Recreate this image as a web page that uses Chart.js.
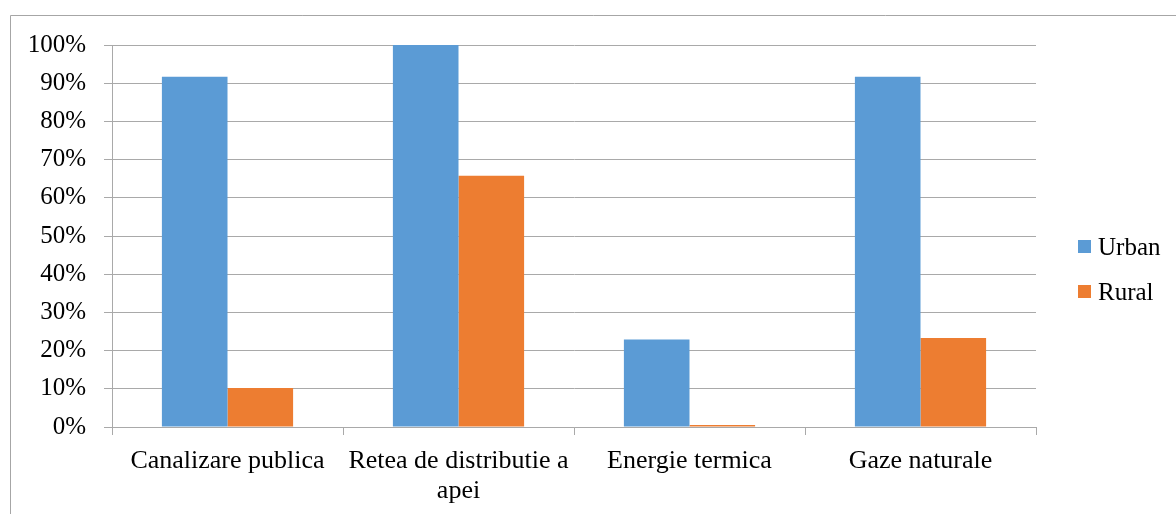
<!DOCTYPE html>
<html>
<head>
<meta charset="utf-8">
<script src="https://cdn.jsdelivr.net/npm/chart.js@4/dist/chart.umd.min.js"></script>
<style>
  html, body { margin: 0; padding: 0; background: #fff; }
  #wrap { width: 1176px; height: 514px; }
</style>
</head>
<body>
<div id="wrap"><canvas id="myChart" width="1176" height="514"></canvas></div>
<script>
// categorii si valori (fractie din total)
const categories = [
  "Canalizare publica",
  ["Retea de distributie a", "apei"],
  "Energie termica",
  "Gaze naturale"
];
const urbanValues = [0.917, 1.0, 0.229, 0.917];
const ruralValues = [0.102, 0.658, 0.005, 0.233];
const yTickLabels = ["0%", "10%", "20%", "30%", "40%", "50%", "60%", "70%", "80%", "90%", "100%"];

const FONT = "'Liberation Serif', 'Times New Roman', serif";
const GRID = "#a9a9a9";

// rama exterioara + legenda desenata manual
const framePlugin = {
  id: "frame",
  afterDraw(chart) {
    const ctx = chart.ctx;
    ctx.save();
    ctx.strokeStyle = "#a6a6a6";
    ctx.lineWidth = 1;
    ctx.beginPath();
    ctx.moveTo(10.5, 520);
    ctx.lineTo(10.5, 15.5);
    ctx.lineTo(1180, 15.5);
    ctx.stroke();

    // legenda
    const items = chart.data.datasets;
    ctx.font = "25px " + FONT;
    ctx.textBaseline = "middle";
    ctx.textAlign = "left";
    items.forEach((ds, i) => {
      const y = 247 + i * 45;
      ctx.fillStyle = ds.backgroundColor;
      ctx.fillRect(1078, y - 7, 13, 13);
      ctx.fillStyle = "#000";
      ctx.fillText(ds.label, 1098, y + 1);
    });
    ctx.restore();
  }
};

function drawChart() {
  new Chart(document.getElementById("myChart"), {
    type: "bar",
    data: {
      labels: categories,
      datasets: [
        {
          label: "Urban",
          data: urbanValues,
          backgroundColor: "#5b9bd5",
          categoryPercentage: 0.568,
          barPercentage: 1.0
        },
        {
          label: "Rural",
          data: ruralValues,
          backgroundColor: "#ed7d31",
          categoryPercentage: 0.568,
          barPercentage: 1.0
        }
      ]
    },
    options: {
      responsive: false,
      animation: false,
      layout: { padding: { left: 0, top: 45, right: 140, bottom: 0 } },
      plugins: {
        legend: { display: false },
        tooltip: { enabled: false }
      },
      scales: {
        x: {
          offset: true,
          grid: {
            offset: true,
            drawOnChartArea: false,
            drawTicks: true,
            tickLength: 8,
            color: GRID
          },
          border: { color: GRID },
          ticks: {
            color: "#000",
            padding: 11,
            maxRotation: 0,
            autoSkip: false,
            font: { family: FONT, size: 26, lineHeight: 1.15 }
          },
          afterFit: function (s) { s.height = 87; }
        },
        y: {
          min: 0,
          max: 1,
          grid: { color: GRID, tickLength: 8 },
          border: { color: GRID },
          ticks: {
            stepSize: 0.1,
            color: "#000",
            padding: 18,
            font: { family: FONT, size: 25 },
            callback: function (value, index) { return yTickLabels[index]; }
          },
          afterFit: function (s) { s.width = 112; }
        }
      }
    },
    plugins: [framePlugin]
  });
}

document.fonts.load("25px 'Liberation Serif'").then(drawChart, drawChart);
</script>
</body>
</html>
